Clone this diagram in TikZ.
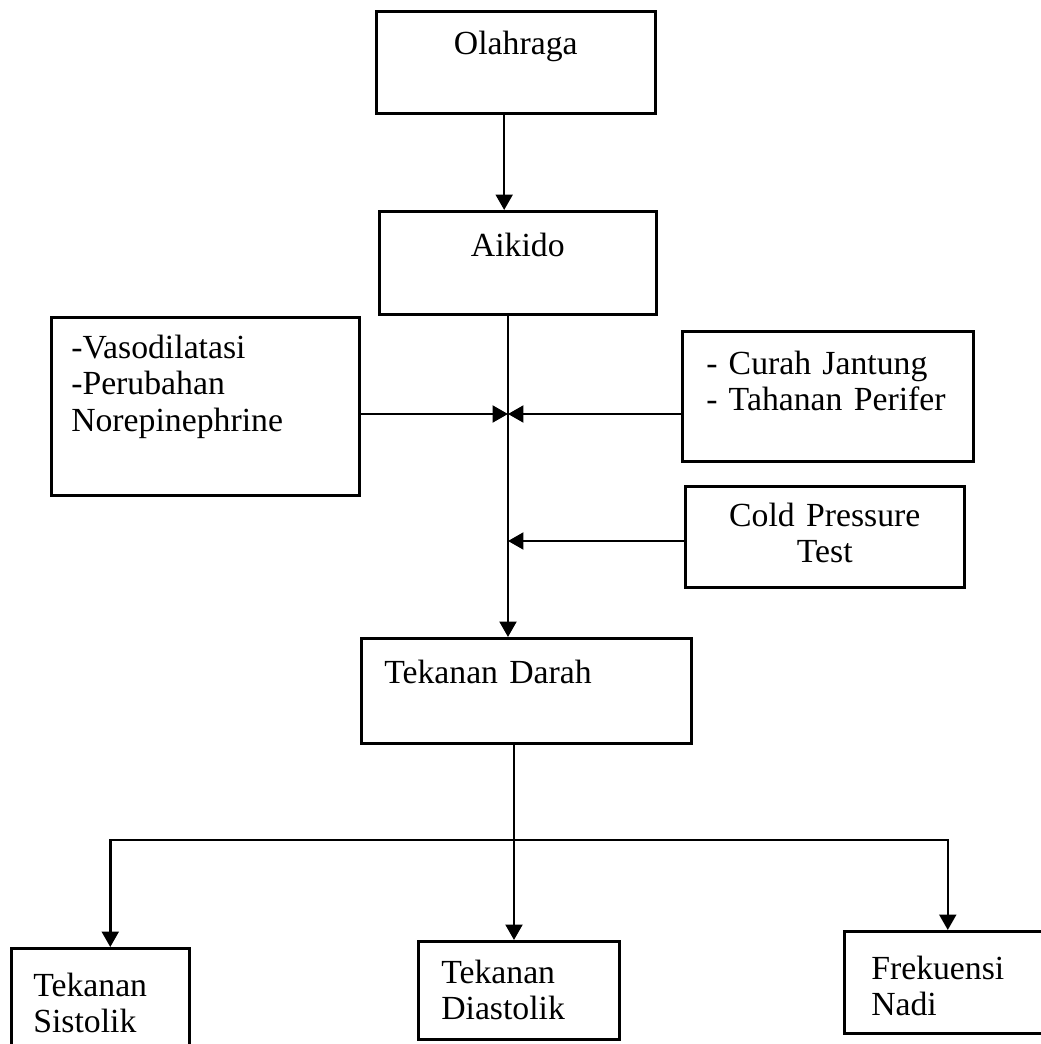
\documentclass[tikz,border=0pt]{standalone}
\usepackage{fontspec}
\setmainfont{Liberation Serif}
\usetikzlibrary{arrows.meta}

\begin{document}
\begin{tikzpicture}[
  box/.style={draw, line width=1.8pt, anchor=north west, inner xsep=0pt, inner ysep=0pt, font=\fontsize{24}{26}\selectfont},
  arr/.style={-{Triangle[length=11pt,width=12pt]}, line width=1.8pt}]
\useasboundingbox (0,0) rectangle (26,-26.1);
\node[box, text width=6.975cm, align=center, text height=1.075cm, text depth=1.475cm] (ol) at (9.375,-0.25) {Olahraga};
\node[box, text width=6.925cm, align=center, text height=1.125cm, text depth=1.45cm] (ai) at (9.45,-5.25) {Aikido};
\node[box, inner xsep=0.5cm, text width=6.7cm, align=left, text height=1.025cm, text depth=3.425cm] (vaso) at (1.25,-7.9) {-Vasodilatasi\\-Perubahan\\Norepinephrine};
\node[box, inner xsep=0.6cm, text width=6.075cm, align=left, text height=1.075cm, text depth=2.175cm] (cj) at (17.025,-8.25) {- Curah Jantung\\- Tahanan Perifer};
\node[box, text width=6.975cm, align=center, text height=1.0cm, text depth=1.525cm] (cpt) at (17.1,-12.125) {Cold Pressure\\Test};
\node[box, inner xsep=0.575cm, text width=7.1cm, align=left, text height=1.125cm, text depth=1.5cm] (darah) at (9.0,-15.925) {Tekanan Darah};
\node[box, inner xsep=0.55cm, text width=3.35cm, align=left, text height=1.2cm, text depth=1.8cm] (sis) at (0.25,-23.675) {Tekanan\\Sistolik};
\node[box, inner xsep=0.575cm, text width=3.875cm, align=left, text height=1.05cm, text depth=1.4cm] (dia) at (10.425,-23.5) {Tekanan\\Diastolik};
\node[box, inner xsep=0.675cm, text width=3.825cm, align=left, text height=1.2cm, text depth=1.35cm] (nadi) at (21.075,-23.25) {Frekuensi\\Nadi};
% junctions on the main line
\coordinate (j1) at (12.7,-10.35);
\coordinate (j2) at (12.7,-13.525);
\coordinate (bar) at (12.85,-21);
\draw[arr] ([xshift=-2.9mm]ol.south) -- ([xshift=-2.9mm]ol.south |- ai.north);
\draw[arr] (ai.south -| j1) -- (darah.north -| j1);
\draw[arr] (vaso.east |- j1) -- (j1);
\draw[arr] (cj.west |- j1) -- (j1);
\draw[arr] (cpt.west |- j2) -- (j2);
\draw[arr] (darah.south -| bar) -- (dia.north -| bar);
\draw[arr] (bar) -| ([xshift=2.5mm]sis.north);
\draw[arr] (bar) -| (nadi.north);
\end{tikzpicture}
\end{document}
